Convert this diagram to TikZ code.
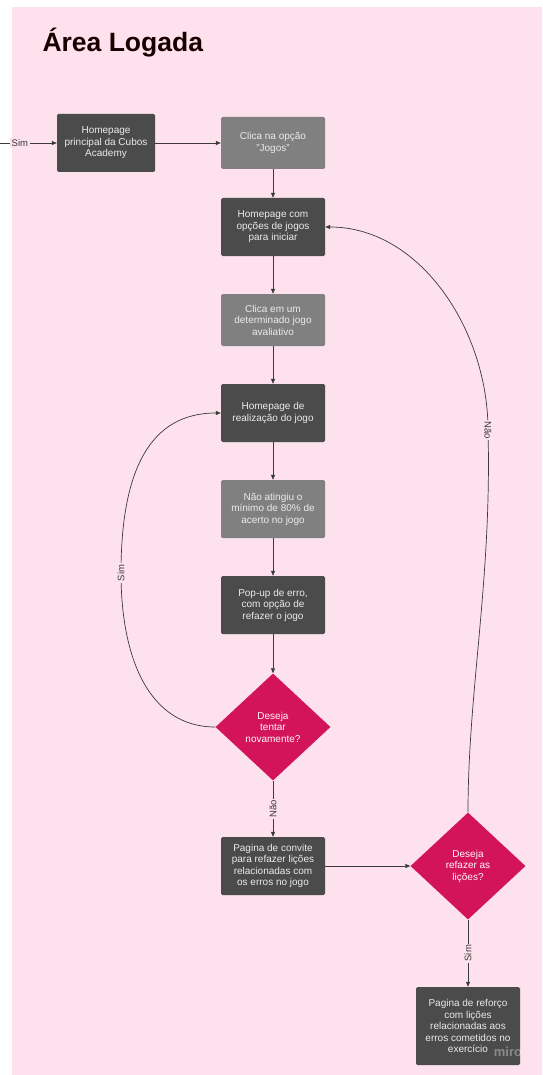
\documentclass[tikz,border=0pt]{standalone}
\usepackage{fontspec}
\setmainfont{Liberation Sans}
\usepackage{tikz}
\usetikzlibrary{positioning,arrows.meta,shapes.geometric}
\usepackage{xcolor}

\definecolor{bgpink}{HTML}{FDE1EC}
\definecolor{darkbox}{HTML}{4B4B4B}
\definecolor{midbox}{HTML}{808080}
\definecolor{choicepink}{HTML}{D4145A}
\definecolor{linegray}{HTML}{3A3A3A}

\begin{document}
\begin{tikzpicture}[x=1pt, y=-1pt,
    every node/.style={font=\fontsize{10}{11.5}\selectfont},
    darkstep/.style={rectangle, rounded corners=1.5pt, fill=darkbox, text=white!92!black, minimum width=104pt, minimum height=58pt, align=center, inner sep=1pt},
    midstep/.style={darkstep, fill=midbox, minimum height=52pt},
    choice/.style={diamond, fill=choicepink, text=white!88!pink, minimum width=115pt, minimum height=107pt, align=center, inner sep=0pt},
    conn/.style={draw=linegray, line width=0.7pt, -{Triangle[length=5pt,width=4pt]}},
    edgelabel/.style={fill=bgpink, text=linegray, inner sep=1.5pt, font=\fontsize{9.5}{10}\selectfont}]
        \useasboundingbox (0,0) rectangle (542,1075);
        \fill[bgpink] (12,7) rectangle (542,1075);

        % Title
        \node[anchor=base west, text=black!90!red, font=\fontsize{26.5}{30}\selectfont\bfseries] (title) at (39,52) {Área Logada};

        % Top row
        \coordinate (entry) at (0,143);
        \node[darkstep, minimum width=98pt] (home) at (106,143) {Homepage\\principal da Cubos\\Academy};
        \node[midstep] (jogos) at (273,143) {Clica na opção\\"Jogos"};

        \draw[conn] (entry) -- node[edgelabel, pos=0.35] {Sim} (home.west);
        \draw[conn] (home) -- (jogos);

        % Main column
        \node[darkstep] (hub) at (273,227) {Homepage com\\opções de jogos\\para iniciar};
        \node[midstep] (pick) at (273,320) {Clica em um\\determinado jogo\\avaliativo};
        \node[darkstep] (play) at (273,413) {Homepage de\\realização do jogo};
        \node[midstep, minimum height=58pt] (fail) at (273,509) {Não atingiu o\\mínimo de 80\% de\\acerto no jogo};
        \node[darkstep] (popup) at (273,605) {Pop-up de erro,\\com opção de\\refazer o jogo};
        \node[choice] (retry) at (273,727) {Deseja\\tentar\\novamente?};
        \node[darkstep] (invite) at (273,866) {Pagina de convite\\para refazer lições\\relacionadas com\\os erros no jogo};

        \draw[conn] (jogos) -- (hub);
        \draw[conn] (hub) -- (pick);
        \draw[conn] (pick) -- (play);
        \draw[conn] (play) -- (fail);
        \draw[conn] (fail) -- (popup);
        \draw[conn] (popup) -- (retry);
        \draw[conn] (retry) -- node[edgelabel, rotate=90] {Não} (invite);

        % Right branch
        \node[choice] (redo) at (468,866) {Deseja\\refazer as\\lições?};
        \node[darkstep, minimum height=78pt] (reforco) at (468,1026) {Pagina de reforço\\com lições\\relacionadas aos\\erros cometidos no\\exercício};

        \draw[conn] (invite) -- (redo);
        \draw[conn] (redo) -- node[edgelabel, rotate=90] {Sim} (reforco);

        % Loops back
        \draw[conn] (retry.west) .. controls (150,727) and (121,660) .. (121,573)
            node[edgelabel, rotate=90] {Sim}
            .. controls (121,470) and (150,413) .. (play.west);
        \draw[conn] (redo.north) .. controls (468,690) and (492,580) .. (488,430)
            node[edgelabel, rotate=-90] {Não}
            .. controls (488,330) and (420,227) .. (hub.east);

        % Watermark
        \node[text=white, opacity=0.35, font=\fontsize{13}{13}\selectfont\bfseries] (miro) at (508,1052) {miro};
    \end{tikzpicture}
\end{document}
